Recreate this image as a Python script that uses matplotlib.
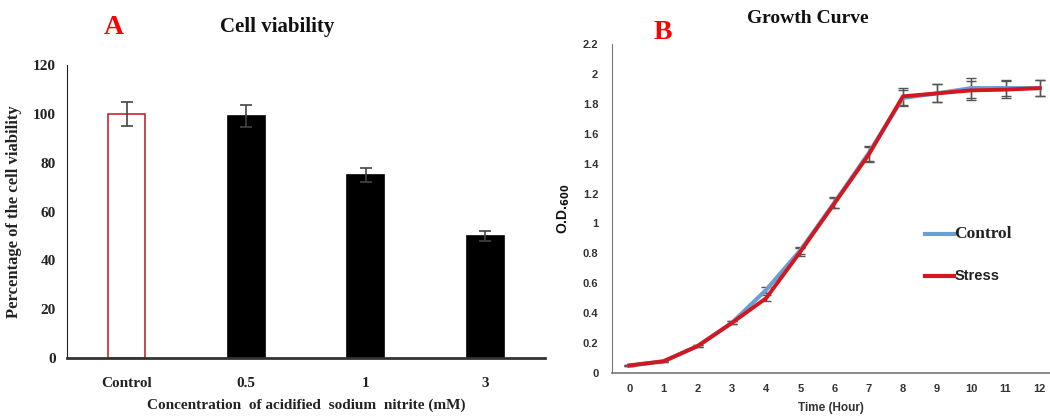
import numpy as np
import matplotlib
matplotlib.use('Agg')
from matplotlib import pyplot as plt

# Panel A data
groups = ['Control', '0.5', '1', '3']
viability = [100, 99, 75, 50]
viability_err = [5, 4.5, 3, 2]

# Panel B data
hours = [0, 1, 2, 3, 4, 5, 6, 7, 8, 9, 10, 11, 12]
od_control = [0.05, 0.078, 0.18, 0.335, 0.555, 0.82, 1.14, 1.47, 1.84, 1.87, 1.905, 1.905, 1.905]
od_stress = [0.05, 0.078, 0.18, 0.335, 0.50, 0.81, 1.135, 1.46, 1.85, 1.87, 1.89, 1.895, 1.905]
od_err = [0.005, 0.005, 0.008, 0.01, 0.02, 0.025, 0.035, 0.05, 0.055, 0.06, 0.065, 0.055, 0.055]

serif = 'Liberation Serif'
sans = 'Liberation Sans'

fig = plt.figure(figsize=(10.5, 4.18), dpi=100)

# ---- Panel A ----
ax1 = fig.add_axes([0.0638, 0.1435, 0.455, 0.701])
x = np.arange(len(groups))
face = ['white', 'black', 'black', 'black']
edge = ['#c0282d', 'black', 'black', 'black']
ax1.bar(x, viability, width=0.31, color=face, edgecolor=edge, linewidth=1.2, zorder=2)
ax1.errorbar(x, viability, yerr=viability_err, fmt='none', ecolor='#444444',
             elinewidth=1.2, capsize=4, capthick=1.2, zorder=3)
ax1.set_xlim(-0.5, 3.5)
ax1.set_ylim(0, 120)
ax1.set_yticks(range(0, 121, 20))
ax1.set_xticks(x)
ax1.set_xticklabels(groups)
for s in ['top', 'right']:
    ax1.spines[s].set_visible(False)
ax1.spines['left'].set_color('#222222')
ax1.spines['bottom'].set_color('#333333')
ax1.spines['bottom'].set_linewidth(2)
ax1.tick_params(length=0, pad=8)
ax1.tick_params(axis='x', pad=14)
for lab in ax1.get_xticklabels() + ax1.get_yticklabels():
    lab.set_fontfamily(serif)
    lab.set_fontweight('bold')
    lab.set_fontsize(11)
    lab.set_color('#222222')
ax1.set_ylabel('Percentage of the cell viability', fontfamily=serif, fontweight='bold',
               fontsize=12, labelpad=8, color='#222222')
ax1.set_xlabel('Concentration  of acidified  sodium  nitrite (mM)', fontfamily=serif,
               fontweight='bold', fontsize=11, labelpad=6, color='#222222')

fig.text(0.264, 0.935, 'Cell viability', fontfamily=serif, fontweight='bold',
         fontsize=15, ha='center', va='center', color='#111111')
fig.text(0.108, 0.935, 'A', fontfamily=serif, fontweight='bold', fontsize=20,
         ha='center', va='center', color='#ff0000')

# ---- Panel B ----
ax2 = fig.add_axes([0.583, 0.1077, 0.417, 0.787])
ax2.errorbar(hours, od_control, yerr=od_err, fmt='none', ecolor='#555555',
             elinewidth=1, capsize=3.5, capthick=1, zorder=2)
ax2.errorbar(hours, od_stress, yerr=od_err, fmt='none', ecolor='#555555',
             elinewidth=1, capsize=3.5, capthick=1, zorder=2)
ax2.plot(hours, od_control, color='#6a9fd4', linewidth=3, zorder=3)
ax2.plot(hours, od_stress, color='#d4161e', linewidth=2.8, zorder=4)
ax2.set_xlim(-0.5, 12.3)
ax2.set_ylim(0, 2.2)
ax2.set_xticks(hours)
yt = [0, 0.2, 0.4, 0.6, 0.8, 1, 1.2, 1.4, 1.6, 1.8, 2, 2.2]
ax2.set_yticks(yt)
ax2.set_yticklabels(['0', '0.2', '0.4', '0.6', '0.8', '1', '1.2', '1.4', '1.6', '1.8', '2', '2.2'])
for s in ['top', 'right']:
    ax2.spines[s].set_visible(False)
ax2.spines['left'].set_color('#777777')
ax2.spines['bottom'].set_color('#777777')
ax2.spines['bottom'].set_linewidth(1.2)
ax2.tick_params(length=0, pad=8)
ax2.tick_params(axis='y', pad=10)
for lab in ax2.get_xticklabels() + ax2.get_yticklabels():
    lab.set_fontfamily(sans)
    lab.set_fontweight('bold')
    lab.set_fontsize(8)
    lab.set_color('#333333')
ax2.set_ylabel(r'O.D.$_{\mathbf{600}}$', fontfamily=sans, fontweight='bold',
               fontsize=10, labelpad=8, color='#111111')
ax2.set_xlabel('Time (Hour)', fontfamily=sans, fontweight='bold', fontsize=8.5,
               labelpad=6, color='#333333')

# legend drawn by hand as in the original
ax2.plot([8.65, 9.5], [0.93, 0.93], color='#6a9fd4', linewidth=3, clip_on=False)
ax2.text(9.5, 0.93, 'Control', fontfamily=serif, fontweight='bold', fontsize=12.5,
         va='center', color='#222222')
ax2.plot([8.65, 9.5], [0.65, 0.65], color='#d4161e', linewidth=3, clip_on=False)
ax2.text(9.5, 0.65, 'Stress', fontfamily=sans, fontweight='bold', fontsize=10.5,
         va='center', color='#222222')

fig.text(0.769, 0.955, 'Growth Curve', fontfamily=serif, fontweight='bold',
         fontsize=14, ha='center', va='center', color='#111111')
fig.text(0.631, 0.922, 'B', fontfamily=serif, fontweight='bold', fontsize=20,
         ha='center', va='center', color='#ff0000')

fig.savefig('out.png', dpi=100)
